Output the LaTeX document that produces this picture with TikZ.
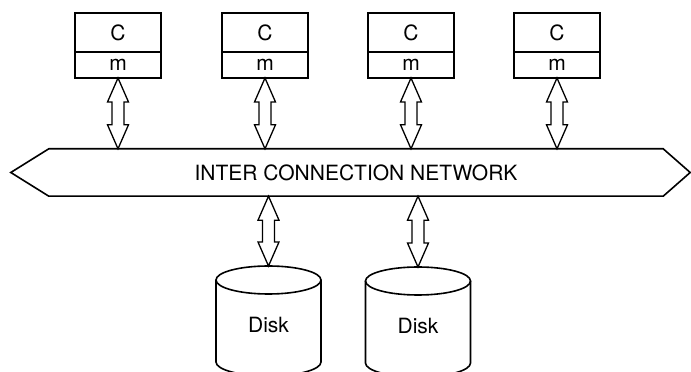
\documentclass[tikz,border=0pt]{standalone}
\usepackage{fontspec}
\setmainfont{TeX Gyre Heros}
\usetikzlibrary{positioning, calc}

% hollow double-headed arrow from #1 (top) to #2 (bottom)
\newcommand{\fatarrow}[2]{%
  \draw[fat_arrow] let \p1=(#1), \p2=(#2) in
    (\x1,\y1) -- (\x1+10.5pt,\y1-24pt) -- (\x1+6pt,\y1-24pt) -- (\x1+6pt,\y2+24pt)
    -- (\x1+10.5pt,\y2+24pt) -- (\x1,\y2) -- (\x1-10.5pt,\y2+24pt) -- (\x1-6pt,\y2+24pt)
    -- (\x1-6pt,\y1-24pt) -- (\x1-10.5pt,\y1-24pt) -- cycle;}

\begin{document}
\begin{tikzpicture}[x=1pt, y=1pt,
    font=\fontsize{21}{25}\selectfont,
    cpu_node/.style={rectangle, draw, line width=1.6pt, minimum width=86, minimum height=39, inner sep=0, outer sep=0},
    mem_node/.style={rectangle, draw, line width=1.6pt, minimum width=86, minimum height=26, inner sep=0, outer sep=0},
    fat_arrow/.style={line width=1.3pt, fill=white, line join=miter},
    disk_line/.style={line width=1.6pt},
    ]
    \path[use as bounding box, clip] (0,0) rectangle (691,372);

    % Processors with memory
    \foreach \px/\k in {118/1, 265/2, 411/3, 557/4} {
      \node[cpu_node] (c\k) at (\px,339.5) {C};
      \node[mem_node] (m\k) [below=0pt of c\k] {m};
    }

    % Network
    \node[minimum width=614, minimum height=47, inner sep=0] (net) at (356,199.5) {INTER CONNECTION NETWORK};
    \draw[line width=1.6pt] (net.north west) -- (net.north east) -- ($(net.east)+(27,0)$)
      -- (net.south east) -- (net.south west) -- ($(net.west)+(-38,0)$) -- cycle;

    % Disks
    \node (d1) at (268.5,47) {Disk};
    \node (d2) at (418,46) {Disk};
    \foreach \d in {d1, d2} {
      \coordinate (\d top) at ($(\d)+(0,59)$);
      \draw[disk_line] ($(\d)+(0,45)$) ellipse [x radius=52.5, y radius=14];
      \draw[disk_line] ($(\d)+(-52.5,45)$) -- ($(\d)+(-52.5,-37)$)
        arc[start angle=180, end angle=360, x radius=52.5, y radius=14] -- ($(\d)+(52.5,45)$);
    }

    % Arrows
    \foreach \k in {1,...,4} {
      \fatarrow{m\k.south}{m\k.south |- net.north}
    }
    \fatarrow{d1top |- net.south}{d1top}
    \fatarrow{d2top |- net.south}{d2top}
\end{tikzpicture}
\end{document}
